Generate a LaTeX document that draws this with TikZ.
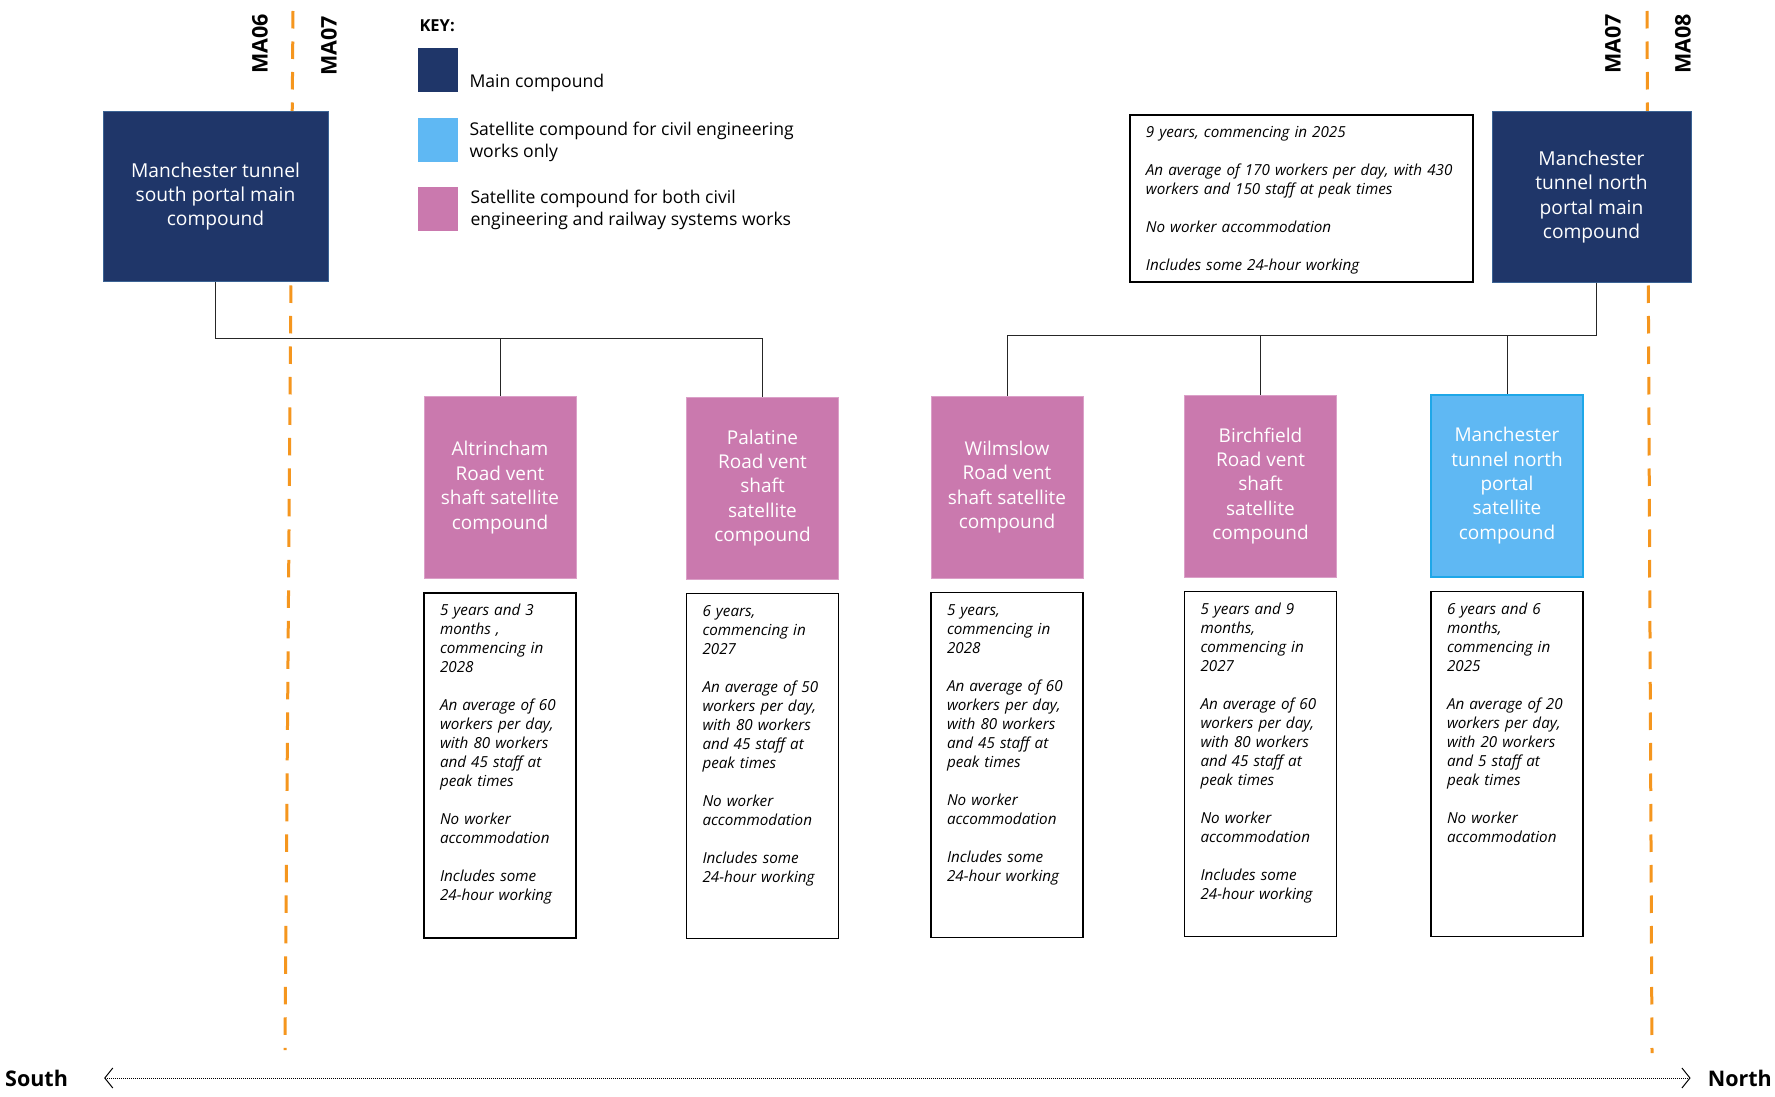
\documentclass[tikz,border=0pt]{standalone}
\usepackage{fontspec}
\setmainfont{Open Sans}
\usepackage{tikz}
\usetikzlibrary{arrows.meta,positioning}
\definecolor{navy}{HTML}{1F3669}
\definecolor{navyedge}{HTML}{3B6394}
\definecolor{mauve}{HTML}{CA79AE}
\definecolor{mauveedge}{HTML}{DBA0C8}
\definecolor{sky}{HTML}{5FB8F3}
\definecolor{skyedge}{HTML}{1EA7E8}
\definecolor{amber}{HTML}{F5961E}
\tikzset{mainbox/.style={fill=navy,draw=navyedge,line width=1pt,text=white,align=center,minimum height=170pt,font=\fontsize{19.2}{24.4}\selectfont},satbox/.style={fill=mauve,draw=mauveedge,line width=1pt,text=white,align=center,minimum width=152pt,minimum height=182pt,font=\fontsize{19}{24.4}\selectfont},civbox/.style={satbox,fill=sky,draw=skyedge,line width=2pt},facts/.style={draw=black,line width=1.8pt,align=left,inner xsep=16pt,inner ysep=10pt,text height=13pt,font=\fontsize{15.2}{19}\selectfont\itshape},keybox/.style={minimum width=40pt,minimum height=44pt,inner sep=0pt},keytext/.style={anchor=west,align=left,font=\fontsize{17.6}{21.5}\selectfont},link/.style={draw=black!85,line width=1pt},zone/.style={draw=amber,line width=3pt,dash pattern=on 17.5pt off 13pt},malabel/.style={rotate=90,font=\fontsize{21.5}{21.5}\selectfont\bfseries},compass/.style={densely dotted,line width=1pt,{Straight Barb[length=8pt,width=20pt]}-{Straight Barb[length=8pt,width=20pt]}},dirlabel/.style={inner sep=0pt,font=\fontsize{21.5}{21.5}\selectfont\bfseries}}
\begin{document}
\begin{tikzpicture}[x=1pt,y=-1pt]
\path[fill=white,use as bounding box] (0,0) rectangle (1775,1097);
\draw[zone] (293,11) -- (285,1050);\draw[zone] (1647,11) -- (1652,1053);
\node[malabel] (ma6) at (260,44) {MA06};
\node[malabel] (ma7s) at (329,46) {MA07};
\node[malabel] (ma7n) at (1613,44) {MA07};
\node[malabel] (ma8) at (1683,44) {MA08};
\node[anchor=west,font=\fontsize{16.5}{16.5}\selectfont\bfseries] (key) at (416,26) {KEY:};
\node[keybox,fill=navy] (keymain) at (437.5,70) {};
\node[keybox,fill=sky] (keycivil) at (437.5,140.5) {};
\node[keybox,fill=mauve] (keyboth) at (437.5,209) {};
\node[keytext] (keymaintext) at (466,83) {Main compound};
\node[keytext] (keyciviltext) at (466,142) {Satellite compound for civil engineering\\works only};
\node[keytext] (keyboth text) at (467,210) {Satellite compound for both civil\\engineering and railway systems works};
\node[mainbox,minimum width=225pt] (smain) at (215.5,196.5) {Manchester tunnel\\south portal main\\compound};
\node[mainbox,minimum width=199pt] (nmain) at (1591.5,197) {Manchester\\tunnel north\\portal main\\compound};
\node[facts,text width=311pt,text depth=134pt,anchor=north west] (ninfo) at (1129,114) {9 years, commencing in 2025\\[19pt]An average of 170 workers per day, with 430\\workers and 150 staff at peak times\\[19pt]No worker accommodation\\[19pt]Includes some 24-hour working};
\node[satbox] (alt) at (500,487.5) {Altrincham\\Road vent\\shaft satellite\\compound};
\node[satbox] (pal) at (762.5,488) {Palatine\\Road vent\\shaft\\satellite\\compound};
\node[satbox] (wil) at (1007,487) {Wilmslow\\Road vent\\shaft satellite\\compound};
\node[satbox] (bir) at (1260.5,486) {Birchfield\\Road vent\\shaft\\satellite\\compound};
\node[civbox] (nsat) at (1507,485.5) {Manchester\\tunnel north\\portal\\satellite\\compound};
\node[facts,text width=120pt,text depth=312pt,below=13pt of alt] (altinfo) {5 years and 3\\months ,\\commencing in\\2028\\[19pt]An average of 60\\workers per day,\\with 80 workers\\and 45 staff at\\peak times\\[19pt]No worker\\accommodation\\[19pt]Includes some\\24-hour working};
\node[facts,text width=120pt,text depth=312pt,below=13pt of pal] (palinfo) {6 years,\\commencing in\\2027\\[19pt]An average of 50\\workers per day,\\with 80 workers\\and 45 staff at\\peak times\\[19pt]No worker\\accommodation\\[19pt]Includes some\\24-hour working};
\node[facts,text width=120pt,text depth=312pt,below=13pt of wil] (wilinfo) {5 years,\\commencing in\\2028\\[19pt]An average of 60\\workers per day,\\with 80 workers\\and 45 staff at\\peak times\\[19pt]No worker\\accommodation\\[19pt]Includes some\\24-hour working};
\node[facts,text width=120pt,text depth=312pt,below=13pt of bir] (birinfo) {5 years and 9\\months,\\commencing in\\2027\\[19pt]An average of 60\\workers per day,\\with 80 workers\\and 45 staff at\\peak times\\[19pt]No worker\\accommodation\\[19pt]Includes some\\24-hour working};
\node[facts,text width=120pt,text depth=312pt,below=13pt of nsat] (nsatinfo) {6 years and 6\\months,\\commencing in\\2025\\[19pt]An average of 20\\workers per day,\\with 20 workers\\and 5 staff at\\peak times\\[19pt]No worker\\accommodation};
\draw[link] (smain.south) -- ++(0,56) coordinate (sbus) -| (pal.north);\draw[link] (alt.north) -- (alt.north |- sbus);
\draw[link] ([xshift=5pt]nmain.south) -- ++(0,53) coordinate (nbus) -| (wil.north);\draw[link] (bir.north) -- (bir.north |- nbus);\draw[link] (nsat.north) -- (nsat.north |- nbus);
\node[dirlabel,anchor=west] (south) at (5,1078) {South};
\node[dirlabel,anchor=east] (north) at (1772,1078) {North};
\draw[compass,shorten <=36pt,shorten >=17pt] (south.east) -- (north.west);
\end{tikzpicture}
\end{document}
